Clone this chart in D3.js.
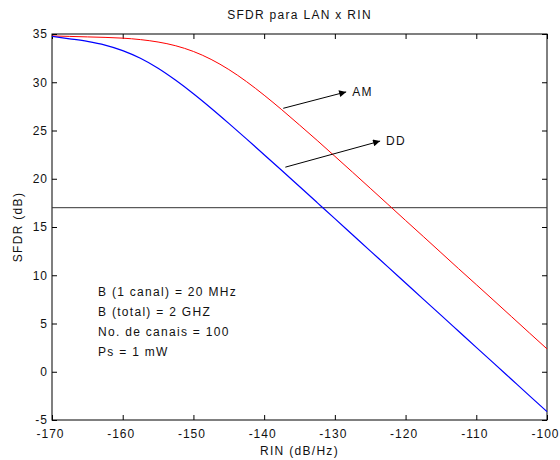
<!DOCTYPE html>
<html>
<head>
<meta charset="utf-8">
<script src="https://cdn.jsdelivr.net/npm/d3@7"></script>
<style>
    body { margin: 0; background: #ffffff; }
    #chart text { font-family: "Liberation Sans", Arial, sans-serif; font-size: 12px; letter-spacing: 1.3px; fill: #111; }
    #chart .tick text { letter-spacing: 1px; }
</style>
</head>
<body>
<div id="chart"></div>
<script>
// SFDR vs RIN curves
const rin = [-170, -167.5, -165, -162.5, -160, -157.5, -155, -152.5, -150, -147.5,
             -145, -142.5, -140, -137.5, -135, -132.5, -130, -127.5, -125, -122.5,
             -120, -117.5, -115, -112.5, -110, -107.5, -105, -102.5, -100];
const sfdrAM = [34.8, 34.75, 34.7, 34.65, 34.57, 34.42, 34.17, 33.78, 33.19, 32.37,
                31.32, 30.07, 28.66, 27.15, 25.57, 23.97, 22.33, 20.68, 19.02, 17.35,
                15.68, 14.02, 12.35, 10.68, 9.03, 7.37, 5.7, 4.03, 2.37];
const sfdrDD = [34.75, 34.5, 34.23, 33.85, 33.28, 32.48, 31.45, 30.2, 28.81, 27.31,
                25.74, 24.13, 22.49, 20.85, 19.19, 17.53, 15.87, 14.2, 12.53, 10.87,
                9.2, 7.53, 5.87, 4.2, 2.53, 0.87, -0.8, -2.47, -4.13];
const xTicks = [-170, -160, -150, -140, -130, -120, -110, -100];
const yTicks = [-5, 0, 5, 10, 15, 20, 25, 30, 35];
const threshold = 17;

// annotation arrows (data coords)
const arrows = [
    { from: [-137.3, 27.3], to: [-128.4, 29.0], label: 'AM' },
    { from: [-137.0, 21.2], to: [-123.6, 23.9], label: 'DD' }
];
const notes = ['B (1 canal) = 20 MHz', 'B (total) = 2 GHZ', 'No. de canais = 100', 'Ps = 1 mW'];
const notesAnchor = [-163.5, 8.3];

const width = 560, height = 460;
const margin = { top: 34, right: 13, bottom: 40, left: 52 };
const plotW = width - margin.left - margin.right;
const plotH = height - margin.top - margin.bottom;

const svg = d3.select('#chart')
    .append('svg')
    .attr('width', width)
    .attr('height', height);

const g = svg.append('g')
    .attr('transform', `translate(${margin.left},${margin.top})`);

const x = d3.scaleLinear().domain([-170, -100]).range([0, plotW]);
const y = d3.scaleLinear().domain([-5, 35]).range([plotH, 0]);

// plain hyphen labels, like the original
const fmt = d => String(d);

// axes with inward ticks on all sides
const styleAxis = sel => {
    sel.select('.domain').remove();
    sel.selectAll('.tick line').attr('stroke', '#000');
    sel.selectAll('.tick text').attr('fill', '#111').attr('font-size', null).attr('font-family', null);
};

g.append('g')
    .attr('transform', `translate(0,${plotH})`)
    .call(d3.axisBottom(x).tickValues(xTicks).tickSize(-5).tickPadding(9).tickFormat(fmt))
    .call(styleAxis)
    .selectAll('.tick text').attr('dx', -2);
g.append('g')
    .call(d3.axisTop(x).tickValues(xTicks).tickSize(-5).tickFormat(''))
    .call(styleAxis);
g.append('g')
    .call(d3.axisLeft(y).tickValues(yTicks).tickSize(-5).tickPadding(4).tickFormat(fmt))
    .call(styleAxis);
g.append('g')
    .attr('transform', `translate(${plotW},0)`)
    .call(d3.axisRight(y).tickValues(yTicks).tickSize(-5).tickFormat(''))
    .call(styleAxis);

// frame
g.append('rect')
    .attr('x', 0).attr('y', 0)
    .attr('width', plotW).attr('height', plotH)
    .attr('fill', 'none')
    .attr('stroke', '#000')
    .attr('stroke-width', 1);

// threshold line
g.append('line')
    .attr('x1', x(-170)).attr('x2', x(-100))
    .attr('y1', y(threshold)).attr('y2', y(threshold))
    .attr('stroke', '#333')
    .attr('stroke-width', 1);

// curves
const line = d3.line()
    .x((d, i) => x(rin[i]))
    .y(d => y(d))
    .curve(d3.curveMonotoneX);

g.append('path')
    .datum(sfdrAM)
    .attr('d', line)
    .attr('fill', 'none')
    .attr('stroke', '#ff0000')
    .attr('stroke-width', 1);

g.append('path')
    .datum(sfdrDD)
    .attr('d', line)
    .attr('fill', 'none')
    .attr('stroke', '#0000ff')
    .attr('stroke-width', 1.2);

// arrow marker
svg.append('defs').append('marker')
    .attr('id', 'arrowhead')
    .attr('viewBox', '0 0 10 10')
    .attr('refX', 10).attr('refY', 5)
    .attr('markerUnits', 'userSpaceOnUse')
    .attr('markerWidth', 11).attr('markerHeight', 7)
    .attr('orient', 'auto')
    .append('path')
    .attr('d', 'M0,0 L10,5 L0,10 Z')
    .attr('fill', '#000');

arrows.forEach(a => {
    g.append('line')
        .attr('x1', x(a.from[0])).attr('y1', y(a.from[1]))
        .attr('x2', x(a.to[0])).attr('y2', y(a.to[1]))
        .attr('stroke', '#000')
        .attr('stroke-width', 1)
        .attr('marker-end', 'url(#arrowhead)');
    g.append('text')
        .attr('x', x(a.to[0]) + 6)
        .attr('y', y(a.to[1]))
        .attr('dy', '0.35em')
        .text(a.label);
});

// parameter notes
g.selectAll('.note')
    .data(notes)
    .enter()
    .append('text')
    .attr('class', 'note')
    .attr('x', x(notesAnchor[0]))
    .attr('y', (d, i) => y(notesAnchor[1]) + i * 20)
    .attr('dy', '0.35em')
    .text(d => d);

// title and axis labels
svg.append('text')
    .attr('x', margin.left + plotW / 2)
    .attr('y', 19)
    .attr('text-anchor', 'middle')
    .text('SFDR para LAN x RIN');

svg.append('text')
    .attr('x', margin.left + plotW / 2)
    .attr('y', 455)
    .attr('text-anchor', 'middle')
    .text('RIN (dB/Hz)');

svg.append('text')
    .attr('transform', `translate(22,${margin.top + plotH / 2}) rotate(-90)`)
    .attr('text-anchor', 'middle')
    .text('SFDR (dB)');
</script>
</body>
</html>
